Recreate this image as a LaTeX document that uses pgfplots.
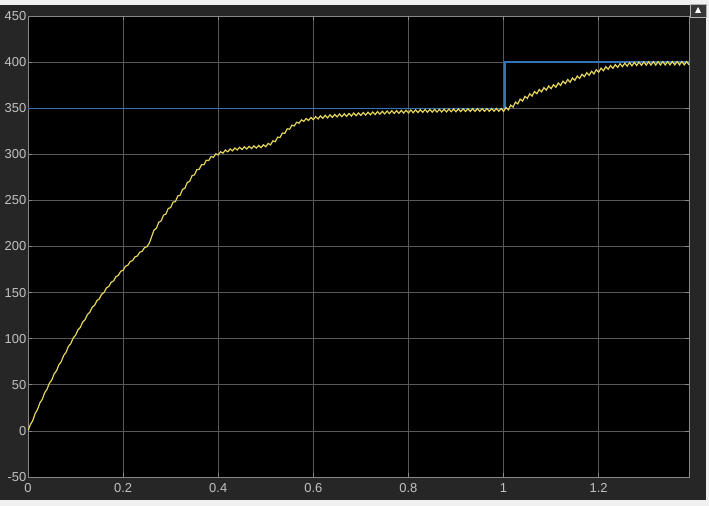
\documentclass[border=0pt]{standalone}
\usepackage{fontspec}
\setmainfont{Liberation Sans}
\usepackage{pgfplots}
\usepackage{pgfplotstable}
\pgfplotsset{compat=1.18}
\definecolor{panel}{RGB}{38,38,38}
\definecolor{pagebg}{RGB}{240,240,240}
\definecolor{gridc}{RGB}{88,88,88}
\definecolor{boxc}{RGB}{135,135,135}
\definecolor{tickc}{RGB}{195,195,195}
\definecolor{scopeyellow}{RGB}{228,212,90}
\definecolor{scopeblue}{RGB}{50,115,185}

\pgfplotstableread{
x y
0.000 0
0.005 6.8
0.010 11.2
0.015 18.8
0.020 23.2
0.025 30.3
0.030 34.2
0.035 41.3
0.040 45.2
0.045 51.8
0.050 55.2
0.055 61.8
0.060 65.2
0.065 71.8
0.070 75.2
0.075 81.8
0.080 85.2
0.085 91.6
0.090 94.7
0.095 100.8
0.100 103.7
0.105 109.6
0.110 112.2
0.115 118.1
0.120 120.7
0.125 126.3
0.130 128.7
0.135 134.1
0.140 136.2
0.145 141.3
0.150 143.2
0.155 148.3
0.160 150.2
0.165 155.1
0.170 156.7
0.175 161.3
0.180 162.7
0.185 167.3
0.190 168.7
0.195 173.1
0.200 174.2
0.205 178.6
0.210 179.7
0.215 183.8
0.220 184.7
0.225 188.8
0.230 189.7
0.235 193.8
0.240 194.7
0.245 198.8
0.250 199.7
0.255 203.5
0.260 210.7
0.265 217.8
0.270 219.7
0.275 226.3
0.280 227.7
0.285 234.0
0.290 235.2
0.295 241.3
0.300 242.2
0.305 248.0
0.310 248.7
0.315 254.8
0.320 255.7
0.325 262.0
0.330 263.2
0.335 269.5
0.340 270.7
0.345 276.8
0.350 277.7
0.355 283.3
0.360 283.7
0.365 288.8
0.370 288.7
0.375 293.6
0.380 293.2
0.385 297.6
0.390 296.7
0.395 300.6
0.400 299.2
0.405 302.8
0.410 301.2
0.415 304.6
0.420 302.7
0.425 305.8
0.430 303.7
0.435 306.8
0.440 304.7
0.445 307.6
0.450 305.2
0.455 308.1
0.460 305.7
0.465 308.6
0.470 306.2
0.475 309.1
0.480 306.7
0.485 309.6
0.490 307.2
0.495 310.3
0.500 308.2
0.505 311.8
0.510 310.2
0.515 314.6
0.520 313.7
0.525 318.6
0.530 318.2
0.535 323.1
0.540 322.7
0.545 327.6
0.550 327.2
0.555 331.6
0.560 330.7
0.565 334.8
0.570 333.7
0.575 337.3
0.580 335.7
0.585 338.8
0.590 336.7
0.595 340.0
0.600 337.5
0.605 340.9
0.610 338.3
0.615 341.7
0.620 339.0
0.625 342.3
0.630 339.5
0.635 342.8
0.640 340.0
0.645 343.3
0.650 340.5
0.655 343.7
0.660 340.8
0.665 343.9
0.670 341.1
0.675 344.3
0.680 341.5
0.685 344.7
0.690 341.8
0.695 344.9
0.700 342.1
0.705 345.3
0.710 342.5
0.715 345.7
0.720 342.8
0.725 345.9
0.730 343.1
0.735 346.3
0.740 343.5
0.745 346.7
0.750 343.8
0.755 346.9
0.760 344.1
0.765 347.2
0.770 344.3
0.775 347.4
0.780 344.5
0.785 347.6
0.790 344.7
0.795 347.8
0.800 344.9
0.805 348.0
0.810 345.1
0.815 348.2
0.820 345.3
0.825 348.4
0.830 345.5
0.835 348.55
0.840 345.6
0.845 348.65
0.850 345.7
0.855 348.75
0.860 345.8
0.865 348.85
0.870 345.9
0.875 348.95
0.880 346.0
0.885 349.05
0.890 346.1
0.895 349.15
0.900 346.2
0.905 349.25
0.910 346.3
0.915 349.35
0.920 346.4
0.925 349.45
0.930 346.5
0.935 349.5
0.940 346.5
0.945 349.55
0.950 346.6
0.955 349.6
0.960 346.6
0.965 349.6
0.970 346.6
0.975 349.65
0.980 346.7
0.985 349.7
0.990 346.7
0.995 349.7
1.000 346.5
1.005 350.8
1.010 348.2
1.015 353.3
1.020 351.2
1.025 356.6
1.030 354.7
1.035 359.8
1.040 357.7
1.045 362.8
1.050 360.7
1.055 365.55
1.060 363.2
1.065 368.05
1.070 365.7
1.075 370.3
1.080 367.7
1.085 372.3
1.090 369.7
1.095 374.05
1.100 371.2
1.105 375.55
1.110 372.7
1.115 377.3
1.120 374.7
1.125 379.3
1.130 376.7
1.135 381.05
1.140 378.2
1.145 382.8
1.150 380.2
1.155 384.8
1.160 382.2
1.165 386.8
1.170 384.2
1.175 388.55
1.180 385.7
1.185 390.05
1.190 387.2
1.195 391.7
1.200 389.0
1.205 393.45
1.210 390.7
1.215 395.05
1.220 392.2
1.225 396.3
1.230 393.2
1.235 397.3
1.240 394.2
1.245 398.2
1.250 395.0
1.255 398.9
1.260 395.6
1.265 399.4
1.270 396.0
1.275 399.75
1.280 396.3
1.285 400.0
1.290 396.5
1.295 400.2
1.300 396.7
1.305 400.35
1.310 396.8
1.315 400.4
1.320 396.8
1.325 400.45
1.330 396.9
1.335 400.5
1.340 396.9
1.345 400.5
1.350 397.0
1.355 400.55
1.360 397.0
1.365 400.6
1.370 397.0
1.375 400.6
1.380 397.0
1.385 400.6
1.390 397.0
}\measured

\pgfplotstableread{
x y
0.000 350
1.003 350
1.003 400
1.390 400
}\reference

\begin{document}
\begin{tikzpicture}[x=1bp,y=1bp]
\fill[pagebg] (0,0) rectangle (709,506);
\fill[panel] (0,6) rectangle (706,501);
\begin{axis}[
  at={(28bp,29bp)}, anchor=south west,
  scale only axis, width=661bp, height=461bp,
  xmin=0, xmax=1.39, ymin=-50, ymax=450,
  xtick={0,0.2,0.4,0.6,0.8,1,1.2},
  ytick={-50,0,50,100,150,200,250,300,350,400,450},
  axis background/.style={fill=black},
  axis line style={boxc, line width=0.6bp},
  grid=major,
  major grid style={gridc, line width=0.6bp},
  tick style={boxc, line width=0.6bp},
  tick align=inside,
  major tick length=4bp,
  ticklabel style={tickc, font=\fontsize{13}{15}\selectfont},
  yticklabel style={inner sep=1.5bp},
  xticklabel style={inner sep=6bp},
  /pgf/number format/assume math mode=true,
  /pgf/number format/fixed,
  clip=true,
]
\addplot[scopeblue, line width=1.2bp] table[x=x,y=y] {\reference};
\addplot[scopeyellow, line width=1.2bp] table[x=x,y=y] {\measured};
\end{axis}
\draw[gray!60, fill={rgb,255:red,55;green,55;blue,55}] (690,489) rectangle (706,502);
\fill[white] (695,493) -- (701,493) -- (698,499) -- cycle;
\end{tikzpicture}
\end{document}
